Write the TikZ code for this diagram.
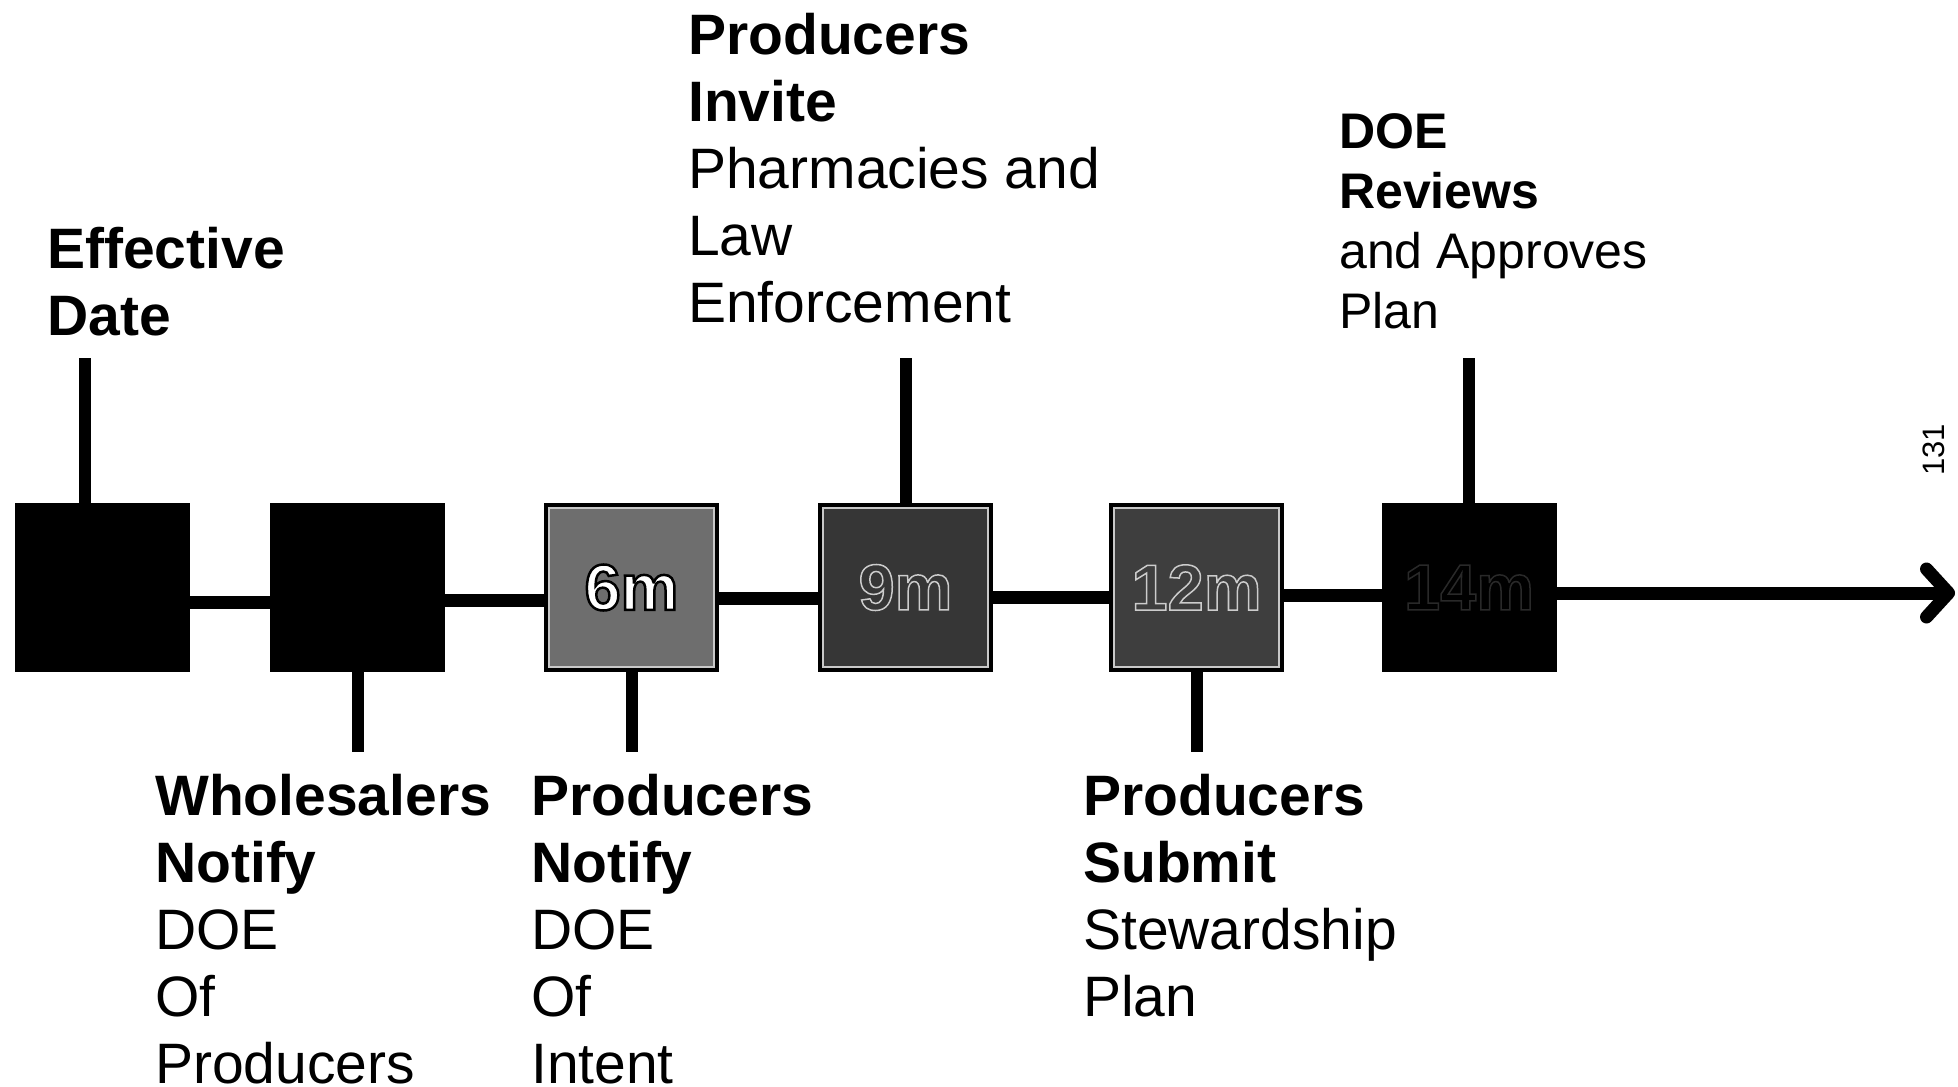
\documentclass[tikz,border=0pt]{standalone}
\usepackage{fontspec}
\setmainfont{Liberation Sans}
\usetikzlibrary{arrows.meta}
\definecolor{gsix}{HTML}{6E6E6E}
\definecolor{gnine}{HTML}{363636}
\definecolor{gtwelve}{HTML}{3E3E3E}
\definecolor{gfrm}{HTML}{C8C8C8}
% outlined text: #1 fill colour, #2 stroke rgb, #3 line width, #4 render mode, #5 text
\newcommand\outlinetext[5]{{\color{#1}\special{pdf:literal direct #2 RG #3 w #4 Tr}#5\special{pdf:literal direct 0 Tr}}}
\begin{document}
\begin{tikzpicture}[x=1pt,y=-1pt,
  tl/.style={line width=13pt},
  stem/.style={line width=12pt},
  tbox/.style={draw=black, line width=4pt, minimum width=171pt, minimum height=165pt, inner sep=0pt,
               font=\fontsize{65}{70}\selectfont\bfseries},
  inframe/.style={draw=gfrm, line width=1.5pt},
  lbl/.style={anchor=base west, inner sep=0pt, font=\fontsize{57}{67}\selectfont},
  lbls/.style={anchor=base west, inner sep=0pt, font=\fontsize{50}{60}\selectfont},
]
\fill[white] (0,0) rectangle (1958,1086);
\useasboundingbox (0,0) rectangle (1958,1086);

% boxes
\node[tbox, fill=black] (b1) at (102.5,587.5) {};
\node[tbox, fill=black] (b2) at (357.5,587.5) {};
\node[tbox, fill=gsix]  (b3) at (631.5,587.5)
  {\outlinetext{white}{0 0 0}{2.5}{2}{6m}};
\node[tbox, fill=gnine] (b4) at (905.5,587.5)
  {\outlinetext{gnine}{0.8 0.8 0.8}{1.5}{2}{9m}};
\node[tbox, fill=gtwelve] (b5) at (1196.5,587.5)
  {\outlinetext{gtwelve}{0.8 0.8 0.8}{1.5}{2}{12m}};
\node[tbox, fill=black] (b6) at (1469,587.5)
  {\outlinetext{black}{0.16 0.16 0.16}{1.5}{2}{14m}};

\foreach \b in {b3,b4,b5}
  \draw[inframe] ([shift={(5,5)}]\b.north west) rectangle ([shift={(-5,-5)}]\b.south east);

% main line
\draw[tl] ([yshift=-15pt]b1.east) -- ([yshift=-15pt]b2.west);
\draw[tl] ([yshift=-13pt]b2.east) -- ([yshift=-13pt]b3.west);
\draw[tl] ([yshift=-11pt]b3.east) -- ([yshift=-11pt]b4.west);
\draw[tl] ([yshift=-10pt]b4.east) -- ([yshift=-10pt]b5.west);
\draw[tl] ([yshift=-8pt]b5.east) -- ([yshift=-8pt]b6.west);
\coordinate (tip) at (1955,593);
\draw[tl, -{Straight Barb[length=22pt,width=48pt,round]}] (b6.east |- tip) -- (tip);

% stems
\coordinate (s1) at (85,358);
\coordinate (s4) at (905.5,358);
\coordinate (s6) at (1469,358);
\coordinate (s2) at (357.5,752);
\coordinate (s3) at (631.5,752);
\coordinate (s5) at (1196.5,752);
\draw[stem] (s1) -- (s1 |- b1.north);
\draw[stem] (s4) -- (b4.north);
\draw[stem] (s6) -- (b6.north);
\draw[stem] (b2.south) -- (s2);
\draw[stem] (b3.south) -- (s3);
\draw[stem] (b5.south) -- (s5);

% labels
\node[lbl] (l1) at (47,268) {\begin{tabular}[t]{@{}l@{}}\textbf{Effective}\\ \textbf{Date}\end{tabular}};
\node[lbl] (l4) at (688,55) {\begin{tabular}[t]{@{}l@{}}\textbf{Producers}\\ \textbf{Invite}\\ Pharmacies and\\ Law\\ Enforcement\end{tabular}};
\node[lbls] (l6) at (1339,149) {\begin{tabular}[t]{@{}l@{}}\textbf{DOE}\\ \textbf{Reviews}\\ and Approves\\ Plan\end{tabular}};
\node[lbl] (l2) at (155,815) {\begin{tabular}[t]{@{}l@{}}\textbf{Wholesalers}\\ \textbf{Notify}\\ DOE\\ Of\\ Producers\end{tabular}};
\node[lbl] (l3) at (531,815) {\begin{tabular}[t]{@{}l@{}}\textbf{Producers}\\ \textbf{Notify}\\ DOE\\ Of\\ Intent\end{tabular}};
\node[lbl] (l5) at (1083,815) {\begin{tabular}[t]{@{}l@{}}\textbf{Producers}\\ \textbf{Submit}\\ Stewardship\\ Plan\end{tabular}};

\node[rotate=90, inner sep=0pt, font=\fontsize{31}{36}\selectfont] (pg) at (1934,450) {131};
\end{tikzpicture}
\end{document}
